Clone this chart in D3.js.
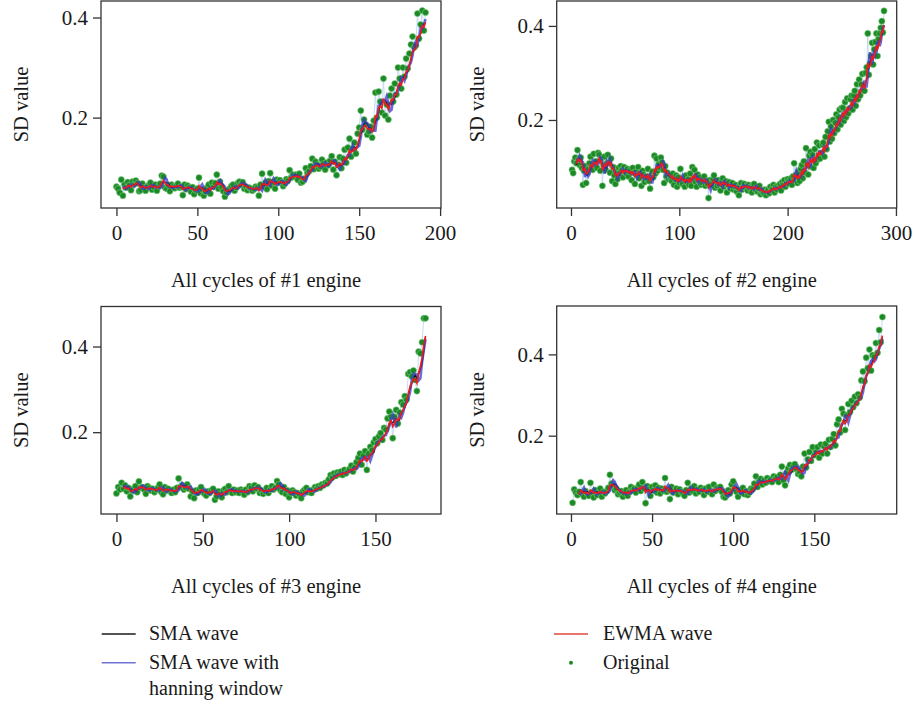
<!DOCTYPE html>
<html><head><meta charset="utf-8">
<script src="https://cdn.jsdelivr.net/npm/d3@7"></script>
<style>body{margin:0;background:#fff}</style>
</head><body>
<svg id="chart" width="914" height="704"></svg>
<script>
// ---- data (SD value per cycle) ----
const engine1 = [
0.062,0.058,0.050,0.076,0.044,0.066,0.060,0.071,0.065,0.055,
0.072,0.067,0.074,0.069,0.053,0.055,0.068,0.060,0.054,0.062,
0.065,0.070,0.056,0.061,0.066,0.054,0.063,0.068,0.084,0.082,
0.060,0.058,0.065,0.053,0.066,0.062,0.059,0.064,0.068,0.060,
0.062,0.045,0.066,0.057,0.064,0.060,0.052,0.061,0.047,0.055,
0.058,0.080,0.049,0.056,0.044,0.052,0.060,0.066,0.048,0.070,
0.062,0.069,0.086,0.058,0.072,0.061,0.053,0.042,0.050,0.055,
0.058,0.063,0.066,0.054,0.060,0.069,0.072,0.066,0.071,0.058,
0.062,0.055,0.060,0.058,0.054,0.057,0.062,0.060,0.044,0.066,
0.088,0.062,0.070,0.057,0.073,0.089,0.064,0.071,0.058,0.076,
0.071,0.075,0.070,0.063,0.068,0.077,0.074,0.095,0.080,0.086,
0.082,0.086,0.076,0.088,0.070,0.072,0.078,0.099,0.090,0.093,
0.103,0.118,0.097,0.112,0.106,0.098,0.102,0.116,0.108,0.096,
0.110,0.105,0.114,0.123,0.096,0.112,0.085,0.106,0.121,0.099,
0.118,0.136,0.110,0.140,0.158,0.122,0.138,0.150,0.128,0.168,
0.180,0.214,0.176,0.196,0.186,0.166,0.172,0.182,0.160,0.194,
0.250,0.200,0.252,0.232,0.210,0.278,0.204,0.226,0.196,0.244,
0.258,0.232,0.268,0.246,0.300,0.278,0.258,0.300,0.282,0.318,
0.298,0.328,0.346,0.362,0.340,0.344,0.408,0.358,0.386,0.414,
0.374,0.410];
const engine2 = [
0.094,0.087,0.112,0.120,0.108,0.136,0.116,0.104,0.120,0.098,
0.062,0.092,0.102,0.066,0.088,0.096,0.108,0.122,0.100,0.094,
0.128,0.104,0.112,0.098,0.130,0.126,0.092,0.118,0.060,0.104,
0.122,0.094,0.108,0.126,0.110,0.088,0.118,0.070,0.100,0.082,
0.064,0.090,0.074,0.098,0.088,0.102,0.094,0.078,0.100,0.092,
0.086,0.096,0.080,0.090,0.094,0.072,0.098,0.088,0.064,0.090,
0.082,0.100,0.076,0.088,0.060,0.092,0.084,0.068,0.080,0.074,
0.096,0.070,0.054,0.082,0.090,0.078,0.124,0.086,0.118,0.092,
0.106,0.098,0.120,0.110,0.094,0.066,0.102,0.080,0.088,0.074,
0.080,0.076,0.070,0.086,0.062,0.074,0.082,0.058,0.078,0.066,
0.096,0.070,0.064,0.076,0.058,0.082,0.068,0.074,0.062,0.086,
0.060,0.100,0.072,0.094,0.068,0.058,0.084,0.070,0.078,0.062,
0.066,0.074,0.080,0.060,0.070,0.064,0.034,0.072,0.062,0.068,
0.074,0.082,0.056,0.066,0.060,0.072,0.064,0.050,0.068,0.076,
0.058,0.064,0.070,0.046,0.062,0.068,0.054,0.060,0.066,0.052,
0.058,0.062,0.048,0.056,0.040,0.060,0.066,0.052,0.058,0.064,
0.056,0.060,0.050,0.062,0.054,0.058,0.046,0.060,0.064,0.052,
0.056,0.048,0.054,0.060,0.042,0.050,0.046,0.044,0.052,0.040,
0.048,0.052,0.044,0.058,0.050,0.054,0.062,0.046,0.058,0.052,
0.060,0.056,0.064,0.050,0.068,0.062,0.072,0.058,0.066,0.074,
0.070,0.064,0.076,0.062,0.080,0.108,0.072,0.084,0.066,0.090,
0.070,0.096,0.104,0.076,0.112,0.088,0.140,0.104,0.084,0.124,
0.132,0.100,0.126,0.098,0.138,0.108,0.152,0.116,0.146,0.118,
0.130,0.148,0.152,0.122,0.164,0.138,0.176,0.196,0.154,0.186,
0.160,0.200,0.172,0.194,0.212,0.180,0.206,0.222,0.190,0.226,
0.226,0.198,0.238,0.206,0.246,0.214,0.224,0.244,0.252,0.222,
0.252,0.262,0.230,0.276,0.244,0.286,0.252,0.276,0.298,0.262,
0.262,0.300,0.312,0.384,0.296,0.320,0.336,0.364,0.318,0.350,
0.366,0.384,0.336,0.372,0.384,0.396,0.410,0.386,0.432];
const engine3 = [
0.057,0.072,0.066,0.082,0.068,0.076,0.062,0.070,0.050,0.064,
0.068,0.074,0.060,0.085,0.070,0.072,0.066,0.056,0.074,0.070,
0.064,0.068,0.060,0.066,0.070,0.078,0.060,0.055,0.072,0.064,
0.068,0.062,0.058,0.066,0.060,0.070,0.092,0.072,0.076,0.066,
0.070,0.078,0.068,0.050,0.062,0.046,0.064,0.058,0.066,0.072,
0.060,0.056,0.052,0.062,0.058,0.064,0.068,0.042,0.050,0.062,
0.056,0.048,0.064,0.068,0.060,0.074,0.062,0.058,0.066,0.060,
0.064,0.058,0.066,0.062,0.054,0.066,0.060,0.074,0.070,0.062,
0.076,0.068,0.072,0.058,0.064,0.056,0.062,0.070,0.058,0.066,
0.074,0.066,0.070,0.086,0.078,0.064,0.060,0.072,0.056,0.064,
0.048,0.058,0.064,0.060,0.052,0.058,0.054,0.046,0.062,0.066,
0.070,0.060,0.064,0.058,0.066,0.072,0.068,0.074,0.070,0.078,
0.076,0.082,0.080,0.090,0.100,0.094,0.104,0.098,0.106,0.102,
0.108,0.100,0.112,0.104,0.110,0.114,0.122,0.108,0.118,0.130,
0.140,0.150,0.124,0.146,0.156,0.112,0.150,0.166,0.158,0.176,
0.184,0.174,0.190,0.198,0.182,0.210,0.206,0.232,0.248,0.236,
0.186,0.236,0.252,0.220,0.246,0.270,0.264,0.284,0.276,0.336,
0.340,0.330,0.344,0.322,0.296,0.388,0.384,0.410,0.466,0.466];
const engine4 = [
0.035,0.068,0.060,0.054,0.062,0.086,0.056,0.050,0.064,0.058,
0.052,0.084,0.060,0.048,0.066,0.054,0.060,0.070,0.050,0.062,
0.058,0.064,0.072,0.104,0.082,0.078,0.066,0.070,0.056,0.060,
0.064,0.050,0.058,0.066,0.052,0.062,0.074,0.066,0.070,0.060,
0.072,0.080,0.064,0.086,0.070,0.034,0.076,0.068,0.052,0.074,
0.066,0.078,0.060,0.072,0.058,0.070,0.064,0.096,0.062,0.068,
0.044,0.074,0.060,0.066,0.070,0.056,0.068,0.062,0.058,0.052,
0.066,0.084,0.060,0.070,0.064,0.076,0.058,0.068,0.062,0.072,
0.066,0.054,0.070,0.062,0.074,0.060,0.056,0.080,0.064,0.072,
0.068,0.074,0.062,0.050,0.048,0.056,0.066,0.058,0.080,0.088,
0.070,0.062,0.050,0.066,0.060,0.072,0.056,0.064,0.054,0.060,
0.070,0.068,0.082,0.100,0.074,0.088,0.094,0.080,0.090,0.084,
0.096,0.088,0.092,0.086,0.100,0.094,0.098,0.086,0.104,0.124,
0.090,0.078,0.110,0.120,0.128,0.116,0.124,0.130,0.118,0.106,
0.110,0.100,0.124,0.156,0.122,0.142,0.160,0.138,0.172,0.152,
0.160,0.172,0.146,0.178,0.156,0.174,0.180,0.156,0.190,0.172,
0.192,0.204,0.176,0.228,0.240,0.208,0.266,0.254,0.214,0.250,
0.278,0.258,0.286,0.270,0.296,0.280,0.302,0.294,0.336,0.358,
0.334,0.392,0.366,0.412,0.360,0.398,0.394,0.428,0.404,0.460,
0.430,0.492];
const firstCycle = [0, 1, 0, 1];
const engineTitles = ["All cycles of #1 engine", "All cycles of #2 engine",
                      "All cycles of #3 engine", "All cycles of #4 engine"];
const yAxisTitle = "SD value";
const yTickValues = [0.2, 0.4];
const xTicks1 = [0, 50, 100, 150, 200];
const xTicks2 = [0, 100, 200, 300];
const xTicks3 = [0, 50, 100, 150];
const xTicks4 = [0, 50, 100, 150];
const seriesNames = ["SMA wave", "SMA wave with|hanning window", "EWMA wave", "Original"];

// ---- smoothing (derived from the original series) ----
const WIN = 5;
function sma(v) {
  return v.map((_, i) => i < WIN - 1 ? null : d3.mean(v.slice(i - WIN + 1, i + 1)));
}
function hanningSma(v) {
  const w = d3.range(WIN).map(k => 0.5 - 0.5 * Math.cos(2 * Math.PI * k / (WIN - 1)));
  const sw = d3.sum(w);
  return v.map((_, i) => i < WIN - 1 ? null :
    d3.sum(w, (wk, k) => wk * v[i - WIN + 1 + k]) / sw);
}
function ewma(v) {
  const a = 2 / (WIN + 1);
  let s = v[0];
  return v.map((x, i) => (s = i === 0 ? x : a * x + (1 - a) * s));
}

const panels = [
  {data: engine1, start: firstCycle[0], xd: [-9.55, 200.55], yd: [0.0194, 0.433], xt: xTicks1, title: engineTitles[0],
   box: [101, 441, 1, 208]},
  {data: engine2, start: firstCycle[1], xd: [-13.2, 300.7], yd: [0.0128, 0.453], xt: xTicks2, title: engineTitles[1],
   box: [556.7, 896.7, 1, 208]},
  {data: engine3, start: firstCycle[2], xd: [-8.95, 187.95], yd: [0.009, 0.4934], xt: xTicks3, title: engineTitles[2],
   box: [101, 441, 306.5, 514]},
  {data: engine4, start: firstCycle[3], xd: [-8.8, 200.8], yd: [0.0074, 0.519], xt: xTicks4, title: engineTitles[3],
   box: [556.7, 896.7, 306, 514]}
];

const FONT = "'Liberation Serif', 'Times New Roman', serif";
const TXT = "#1a1a1a";
const svg = d3.select("#chart").style("font-family", FONT);

panels.forEach(p => {
  const [x0, x1, y0, y1] = p.box;
  const x = d3.scaleLinear().domain(p.xd).range([x0, x1]);
  const y = d3.scaleLinear().domain(p.yd).range([y1, y0]);
  const g = svg.append("g");
  const pts = p.data.map((v, i) => ({c: p.start + i, v}));
  const s1 = sma(p.data), s2 = hanningSma(p.data), s3 = ewma(p.data);

  const clipId = "clip" + Math.round(x0) + "_" + Math.round(y0);
  g.append("clipPath").attr("id", clipId).append("rect")
    .attr("x", x0).attr("y", y0).attr("width", x1 - x0).attr("height", y1 - y0);
  const plot = g.append("g").attr("clip-path", `url(#${clipId})`);

  const line = d3.line().defined(d => d.v !== null).x(d => x(d.c)).y(d => y(d.v));
  plot.append("path").datum(pts).attr("d", line)
    .attr("fill", "none").attr("stroke", "#b9d3ef").attr("stroke-width", 1).attr("opacity", 0.8);
  plot.append("g").selectAll("circle").data(pts).join("circle")
    .attr("cx", d => x(d.c)).attr("cy", d => y(d.v)).attr("r", 3.1)
    .attr("fill", "#1b8a26").attr("stroke", "#86cf86").attr("stroke-width", 0.8).attr("stroke-opacity", 0.7);
  const mk = arr => arr.map((v, i) => ({c: p.start + i, v}));
  plot.append("path").datum(mk(s1)).attr("d", line)
    .attr("fill", "none").attr("stroke", "#111").attr("stroke-width", 1.2);
  plot.append("path").datum(mk(s2)).attr("d", line)
    .attr("fill", "none").attr("stroke", "#3a3ac8").attr("stroke-width", 2.6).attr("stroke-opacity", 0.75);
  plot.append("path").datum(mk(s3).map((d, i) => i < WIN - 1 ? {c: d.c, v: null} : d)).attr("d", line)
    .attr("fill", "none").attr("stroke", "#ee1c1c").attr("stroke-width", 1.6);

  // axes
  const ax = g.append("g").attr("transform", `translate(0,${y1})`)
    .call(d3.axisBottom(x).tickValues(p.xt).tickSize(8).tickPadding(9).tickFormat(d3.format("d")));
  const ay = g.append("g").attr("transform", `translate(${x0},0)`)
    .call(d3.axisLeft(y).tickValues(yTickValues).tickSize(8).tickPadding(5).tickFormat(d3.format(".1f")));
  [ax, ay].forEach(a => {
    a.select(".domain").remove();
    a.selectAll("line").attr("stroke", "#333").attr("stroke-width", 1.3);
    a.selectAll("text").attr("fill", TXT).style("font-size", "21px").style("font-family", FONT);
  });
  g.append("rect").attr("x", x0).attr("y", y0).attr("width", x1 - x0).attr("height", y1 - y0)
    .attr("fill", "none").attr("stroke", "#333").attr("stroke-width", 1.3);

  g.append("text").attr("x", (x0 + x1) / 2 - 5).attr("y", y1 + 79)
    .attr("text-anchor", "middle").attr("fill", TXT).style("font-size", "20.5px").text(p.title);
  g.append("text").attr("transform", `translate(${x0 - 73},${(y0 + y1) / 2}) rotate(-90)`)
    .attr("text-anchor", "middle").attr("fill", TXT).style("font-size", "20.5px").text(yAxisTitle);
});

// legend
const leg = svg.append("g").style("font-size", "20px").attr("fill", TXT);
const items = [
  {name: seriesNames[0], kind: "line", color: "#1a1a1a", lx: 101.7, ly: 634, tx: 149, ty: 640},
  {name: seriesNames[1], kind: "line", color: "#7373d6", lx: 101.7, ly: 662.7, tx: 149, ty: 668.5},
  {name: seriesNames[2], kind: "line", color: "#e2493d", lx: 554, ly: 634, tx: 603, ty: 640},
  {name: seriesNames[3], kind: "dot", color: "#1b8a26", lx: 554, ly: 662.7, tx: 603, ty: 668.5}
];
items.forEach(it => {
  if (it.kind === "line") {
    leg.append("line").attr("x1", it.lx).attr("x2", it.lx + 34).attr("y1", it.ly).attr("y2", it.ly)
      .attr("stroke", it.color).attr("stroke-width", 1.6);
  } else {
    leg.append("circle").attr("cx", it.lx + 17).attr("cy", it.ly).attr("r", 2).attr("fill", it.color);
  }
  const t = leg.append("text").attr("x", it.tx).attr("y", it.ty);
  it.name.split("|").forEach((s, k) => {
    t.append("tspan").attr("x", it.tx).attr("dy", k === 0 ? 0 : 26).text(s);
  });
});
</script>
</body></html>
